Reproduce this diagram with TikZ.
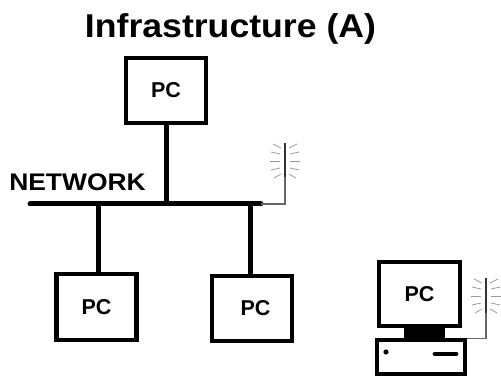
\documentclass[tikz,border=0pt]{standalone}
\usepackage{graphicx}
\usepackage{fontspec}
\setmainfont{Liberation Sans}
\tikzset{
  x=1pt,y=-1pt,
  pcbox/.style={draw=black,line width=4.2pt,fill=white,inner sep=0pt,font=\bfseries\fontsize{21.5}{22}\selectfont},
  busline/.style={draw=black,line width=5pt},
  thin wire/.style={draw=black!60,line width=1.1pt},
  mast/.style={draw=black!80,line width=1.8pt},
  ray/.style={draw=black!40,line width=0.8pt},
  ants/.pic={
    \draw[mast] (0,-17) -- (0,18);
    \foreach \s in {-1,1}{
      \draw[ray] (\s*4,-12) -- (\s*12,-16);
      \draw[ray] (\s*5,-6) -- (\s*14,-8);
      \draw[ray] (\s*5,1) -- (\s*15,1);
      \draw[ray] (\s*5,8) -- (\s*14,10);
      \draw[ray] (\s*4,14) -- (\s*11,18);
    }
  }
}
\begin{document}
\begin{tikzpicture}
\useasboundingbox[fill=white] (0,0) rectangle (501,377);
\node[font=\bfseries\fontsize{33}{33}\selectfont,anchor=center] (title) at (230.5,29) {\scalebox{1.08}[1]{Infrastructure (A)}};
\node[font=\bfseries\fontsize{24}{24}\selectfont,anchor=center] (netlabel) at (77.5,182.5) {\scalebox{1.1}[1]{NETWORK}};

\node[pcbox,minimum width=79.5pt,minimum height=65pt] (pctop) at (166,90.5) {\raisebox{-1.5pt}{PC}};
\node[pcbox,minimum width=80pt,minimum height=65.5pt] (pcleft) at (96.5,307) {PC};
\node[pcbox,minimum width=80pt,minimum height=65pt] (pcright) at (252,308.5) {\hspace*{7pt}PC};

\coordinate (busW) at (30,204);
\coordinate (busE) at (261,204);
\coordinate (tapT) at (166,204);
\coordinate (tapL) at (98.5,204);
\coordinate (tapR) at (250,204);
\draw[busline,line cap=round] (busW) -- (busE);
\draw[busline] (pctop.south) -- (tapT);
\draw[busline] (tapL) -- (tapL |- pcleft.north);
\draw[busline] (tapR) -- (tapR |- pcright.north);

% access point antenna
\coordinate (ant1) at (285,160);
\pic at (ant1) {ants};
\draw[thin wire] (busE) -- (285,204) -- (285,177);

% wireless station
\node[pcbox,minimum width=81pt,minimum height=64pt] (mon) at (419.5,294) {PC};
\node[draw=black,fill=black,minimum width=40pt,minimum height=9pt,inner sep=0pt,line width=0pt] (stand) at (424,332.5) {};
\node[draw=black,line width=3.6pt,fill=white,minimum width=88pt,minimum height=34pt,inner sep=0pt] (base) at (421,357) {};
\fill[black] (386,352) circle (2.6);
\draw[black,line width=4.8pt,line cap=round] (435,354) -- (456,354);
\coordinate (ant2) at (486,295);
\pic at (ant2) {ants};
\draw[thin wire] (base.north east) -- (ant2 |- base.north) -- (486,313);
\end{tikzpicture}
\end{document}
